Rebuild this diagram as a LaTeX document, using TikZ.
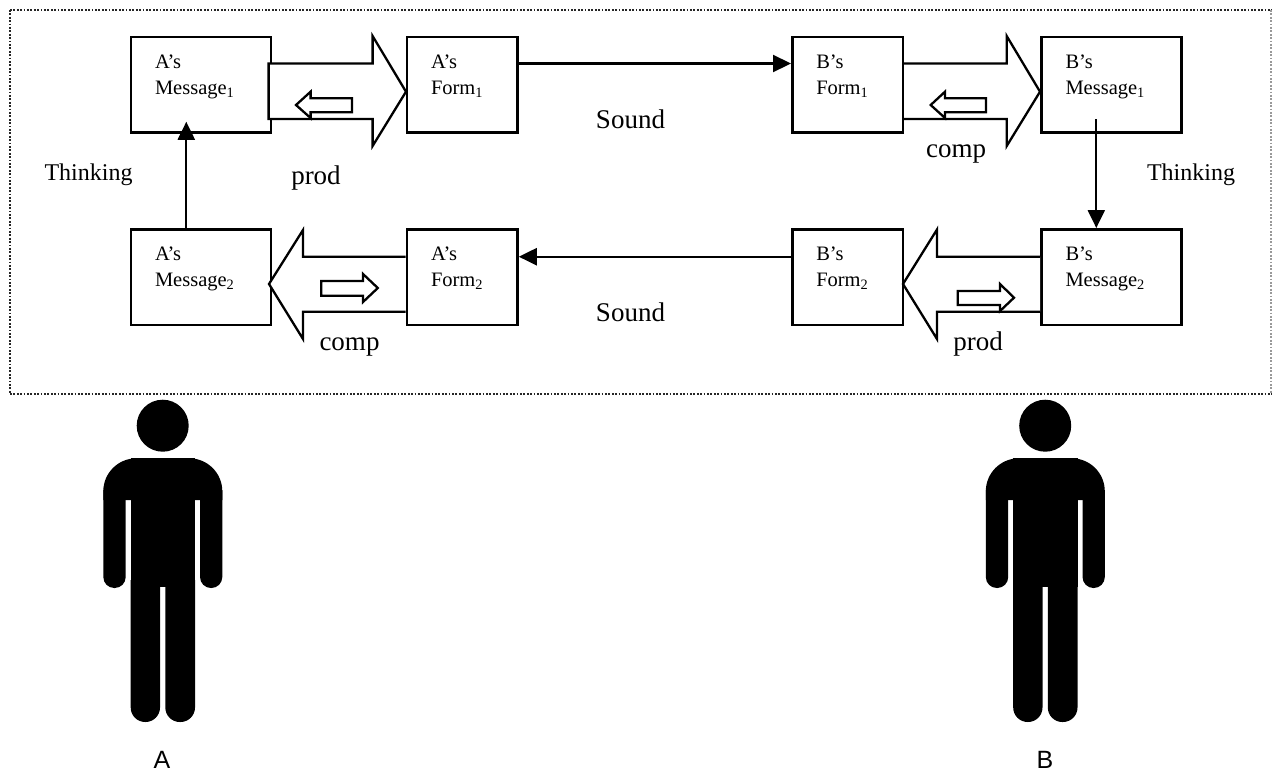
\documentclass[tikz,border=0pt]{standalone}
\usepackage{fontspec}
\setmainfont{Liberation Serif}
\newfontfamily\labelsans{Liberation Sans}
\usetikzlibrary{arrows.meta}
\newcommand\boxtxt[3]{\parbox[c][95.5pt][t]{#1}{\fontsize{20.5}{25.5}\selectfont\rule{0pt}{31.5pt}\hspace*{24pt}#2\par\hspace*{24pt}#3\par}}
\newcommand\personfig[1]{%
  \begin{scope}[xshift=#1]
    \fill (162.7,425.7) circle[radius=26pt];
    \fill[rounded corners=33pt] (103.3,500) -- (103.3,458.3) -- (222.3,458.3) -- (222.3,500);
    \fill (130.7,458.3) rectangle (195,587);
    \fill[rounded corners=11pt] (103.3,490) -- (103.3,588) -- (125.7,588) -- (125.7,490);
    \fill[rounded corners=11pt] (200,490) -- (200,588) -- (222.3,588) -- (222.3,490);
    \fill[rounded corners=14.5pt] (130.7,580) -- (130.7,722) -- (160,722) -- (160,580);
    \fill[rounded corners=14.5pt] (165.3,580) -- (165.3,722) -- (195,722) -- (195,580);
  \end{scope}}
\tikzset{
  msgbox/.style={draw=black,line width=2.5pt,fill=white,inner sep=0pt,minimum width=140pt,minimum height=95.5pt},
  formbox/.style={draw=black,line width=2.5pt,fill=white,inner sep=0pt,minimum width=110.5pt,minimum height=95.5pt},
  hollow/.style={draw=black,fill=white,line width=2.3pt,line join=miter},
  conn/.style={draw=black,line width=2.2pt,-{Triangle[length=18pt,width=17pt]}},
  bigtxt/.style={font=\fontsize{27}{27}\selectfont,inner sep=0pt,anchor=base},
  thinktxt/.style={font=\fontsize{24}{24}\selectfont,inner sep=0pt,anchor=base},
  persontxt/.style={font=\labelsans\fontsize{25}{25}\selectfont,inner sep=0pt,anchor=base}
}
\begin{document}
\begin{tikzpicture}[x=1pt,y=-1pt]
\useasboundingbox (0,0) rectangle (1272,772);
\draw[black!85,line width=2.6pt,dash pattern=on 1.7pt off 1.7pt] (10,10) -- (1272,10);
\draw[black!85,line width=2.6pt,dash pattern=on 1.7pt off 1.7pt] (10,394) -- (1272,394);
\draw[black!85,line width=2.6pt,dash pattern=on 1.7pt off 1.7pt] (10,10) -- (10,394);
\draw[black!40,line width=1.2pt,dash pattern=on 1.7pt off 1.7pt] (1271,10) -- (1271,394);

\node[msgbox] (am1) at (201,84.75) {\boxtxt{140pt}{A’s}{Message\textsubscript{1}}};
\node[formbox] (af1) at (462.25,84.75) {\boxtxt{110.5pt}{A’s}{Form\textsubscript{1}}};
\node[formbox] (bf1) at (847.5,84.75) {\boxtxt{110.5pt}{B’s}{Form\textsubscript{1}}};
\node[msgbox] (bm1) at (1111.5,84.75) {\boxtxt{140pt}{B’s}{Message\textsubscript{1}}};
\node[msgbox] (am2) at (201,277) {\boxtxt{140pt}{A’s}{Message\textsubscript{2}}};
\node[formbox] (af2) at (462.25,277) {\boxtxt{110.5pt}{A’s}{Form\textsubscript{2}}};
\node[formbox] (bf2) at (847.5,277) {\boxtxt{110.5pt}{B’s}{Form\textsubscript{2}}};
\node[msgbox] (bm2) at (1111.5,277) {\boxtxt{140pt}{B’s}{Message\textsubscript{2}}};

% wide arrows
\draw[hollow] (268.6,63.5) -- (372.6,63.5) -- (372.6,36) -- (406,91.7) -- (372.6,146) -- (372.6,119) -- (268.6,119) -- cycle;
\draw[hollow] (904,63.5) -- (1006.7,63.5) -- (1006.7,36) -- (1040,91.7) -- (1006.7,146) -- (1006.7,119) -- (904,119);
\draw[hollow] (405.7,256.7) -- (303,256.7) -- (303,230) -- (269,284) -- (303,339) -- (303,311.7) -- (405.7,311.7);
\draw[hollow] (1040.2,256.7) -- (937,256.7) -- (937,229.5) -- (903,284) -- (937,339) -- (937,311.7) -- (1040.2,311.7);

% small arrows
\draw[hollow] (352,98.3) -- (310.6,98.3) -- (310.6,91.7) -- (296,105) -- (310.6,118) -- (310.6,112.3) -- (352,112.3) -- cycle;
\draw[hollow] (986,98.3) -- (945,98.3) -- (945,91.7) -- (930.7,105) -- (945,118) -- (945,112.3) -- (986,112.3) -- cycle;
\draw[hollow] (321.3,281) -- (363,281) -- (363,274) -- (377.8,288) -- (363,302) -- (363,295.7) -- (321.3,295.7) -- cycle;
\draw[hollow] (957.7,291) -- (1000,291) -- (1000,284) -- (1014,297.7) -- (1000,311) -- (1000,305) -- (957.7,305) -- cycle;

% connectors
\draw[conn] ([yshift=21.25pt]af1.east) -- ([yshift=21.25pt]bf1.west);
\draw[conn] ([yshift=20.3pt]bf2.west) -- ([yshift=20.3pt]af2.east);
\draw[conn] ([xshift=-14.7pt]am2.north) -- ([xshift=-14.7pt,yshift=12pt]am1.south);
\draw[conn] ([xshift=-15.2pt,yshift=14.5pt]bm1.south) -- ([xshift=-15.2pt]bm2.north);

% labels
\node[thinktxt] (t1) at (88.5,180) {Thinking};
\node[thinktxt] (t2) at (1191,180) {Thinking};
\node[bigtxt] (s1) at (630.5,128) {Sound};
\node[bigtxt] (s2) at (630.5,321) {Sound};
\node[bigtxt] (p1) at (316,184) {prod};
\node[bigtxt] (c1) at (349.5,350) {comp};
\node[bigtxt] (c2) at (956,157) {comp};
\node[bigtxt] (p2) at (978,350) {prod};

\personfig{0pt}
\personfig{882.5pt}
\node[persontxt] (la) at (162,768) {A};
\node[persontxt] (lb) at (1045,768) {B};
\end{tikzpicture}
\end{document}
